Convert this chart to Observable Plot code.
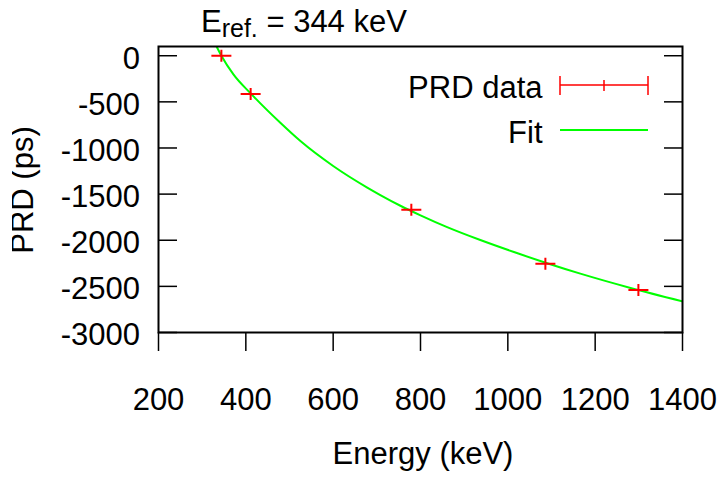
<!DOCTYPE html>
<html>
<head>
<meta charset="utf-8">
<script src="https://cdn.jsdelivr.net/npm/d3@7"></script>
<script src="https://cdn.jsdelivr.net/npm/@observablehq/plot@0.6"></script>
<style>
  html, body { margin: 0; padding: 0; background: #fff; }
  #chart { width: 724px; height: 482px; }
</style>
</head>
<body>
<div id="chart"></div>
<script>
// ---- data ----
const energies = [344, 411, 779, 1086, 1299];           // keV
const prdValues = [0, -414, -1670, -2255, -2540];        // ps

const fitEnergies = [333, 344, 372, 411, 479, 525, 600, 678, 708, 754, 800, 861, 937, 1014, 1090, 1166, 1281, 1400];
const fitValues   = [100, 0, -205, -408, -727, -925, -1195, -1429, -1510, -1626, -1730, -1858, -1998, -2128, -2249, -2362, -2517, -2662];

const xTicks = [200, 400, 600, 800, 1000, 1200, 1400];
const yTicks = [0, -500, -1000, -1500, -2000, -2500, -3000];

const titleMain = "E";
const titleSub = "ref.";
const titleRest = " = 344 keV";
const xLabel = "Energy (keV)";
const yLabel = "PRD (ps)";
const legendData = "PRD data";
const legendFit = "Fit";

// ---- build ----
const points = energies.map((e, i) => ({e, v: prdValues[i]}));
const fit = fitEnergies.map((e, i) => ({e, v: fitValues[i]}));

const cross = {
  draw(ctx) {
    ctx.moveTo(-10, 0); ctx.lineTo(10, 0);
    ctx.moveTo(0, -6); ctx.lineTo(0, 6);
  }
};

const FONT = "'Liberation Sans', Arial, Helvetica, sans-serif";
const FS = "31px";
const fmt = d => String(d);

const svg = Plot.plot({
  width: 724,
  height: 482,
  marginLeft: 158,
  marginRight: 42,
  marginTop: 46,
  marginBottom: 150,
  style: {fontSize: FS, fontFamily: FONT, color: "#000", background: "#fff"},
  x: {domain: [200, 1400]},
  y: {domain: [-3000, 100]},
  marks: [
    Plot.line(fit, {x: "e", y: "v", stroke: "#00ff00", strokeWidth: 2, curve: "monotone-x", clip: true}),
    Plot.dot(points, {x: "e", y: "v", symbol: cross, fill: "none", stroke: "#ff0000", strokeWidth: 2}),
    Plot.axisX({ticks: xTicks, tickSize: 19, tickPadding: 36, tickFormat: fmt, label: null, strokeWidth: 1.5, strokeOpacity: 1}),
    Plot.axisY({ticks: yTicks, tickSize: 19, dx: 19, tickFormat: () => "", label: null, strokeWidth: 1.5, strokeOpacity: 1}),
    Plot.axisY({ticks: yTicks, tickSize: 0, tickPadding: 18.5, dy: 3, tickFormat: fmt, label: null}),
    Plot.axisY({anchor: "right", ticks: yTicks, tickSize: 19, dx: -19, tickFormat: () => "", label: null, strokeWidth: 1.5, strokeOpacity: 1}),
    Plot.frame({stroke: "#000", strokeWidth: 2})
  ]
});

const s = d3.select(svg);
s.selectAll("text").style("fill", "#000");

// title with subscript
const t = s.append("text").attr("x", 201).attr("y", 32).attr("text-anchor", "start")
  .style("font-family", FONT).style("font-size", FS).attr("fill", "#000");
t.append("tspan").text(titleMain);
t.append("tspan").attr("dy", 5).style("font-size", "25px").text(titleSub);
t.append("tspan").attr("dy", -5).text(titleRest);

// x label
s.append("text").attr("x", 423).attr("y", 464).attr("text-anchor", "middle")
  .style("font-family", FONT).style("font-size", FS).attr("fill", "#000").text(xLabel);

// y label (rotated, clipped at left like the reference)
const defs = s.append("defs");
defs.append("clipPath").attr("id", "ylabclip").append("rect")
  .attr("x", 12).attr("y", 0).attr("width", 60).attr("height", 482);
s.append("g").attr("clip-path", "url(#ylabclip)")
  .append("text").attr("transform", "translate(33,190) rotate(-90)").attr("text-anchor", "middle")
  .style("font-family", FONT).style("font-size", FS).attr("fill", "#000").text(yLabel);

// legend
const lg = s.append("g");
lg.append("text").attr("x", 542.5).attr("y", 98).attr("text-anchor", "end")
  .style("font-family", FONT).style("font-size", FS).attr("fill", "#000").text(legendData);
lg.append("path").attr("d", "M560,85H648M560,76V95M648,76V95M604,80V91")
  .attr("stroke", "#ff0000").attr("stroke-width", 1.5).attr("fill", "none");
lg.append("text").attr("x", 542.5).attr("y", 143).attr("text-anchor", "end")
  .style("font-family", FONT).style("font-size", FS).attr("fill", "#000").text(legendFit);
lg.append("path").attr("d", "M560,130H648")
  .attr("stroke", "#00ff00").attr("stroke-width", 2).attr("fill", "none");

document.getElementById("chart").appendChild(svg);
</script>
</body>
</html>
